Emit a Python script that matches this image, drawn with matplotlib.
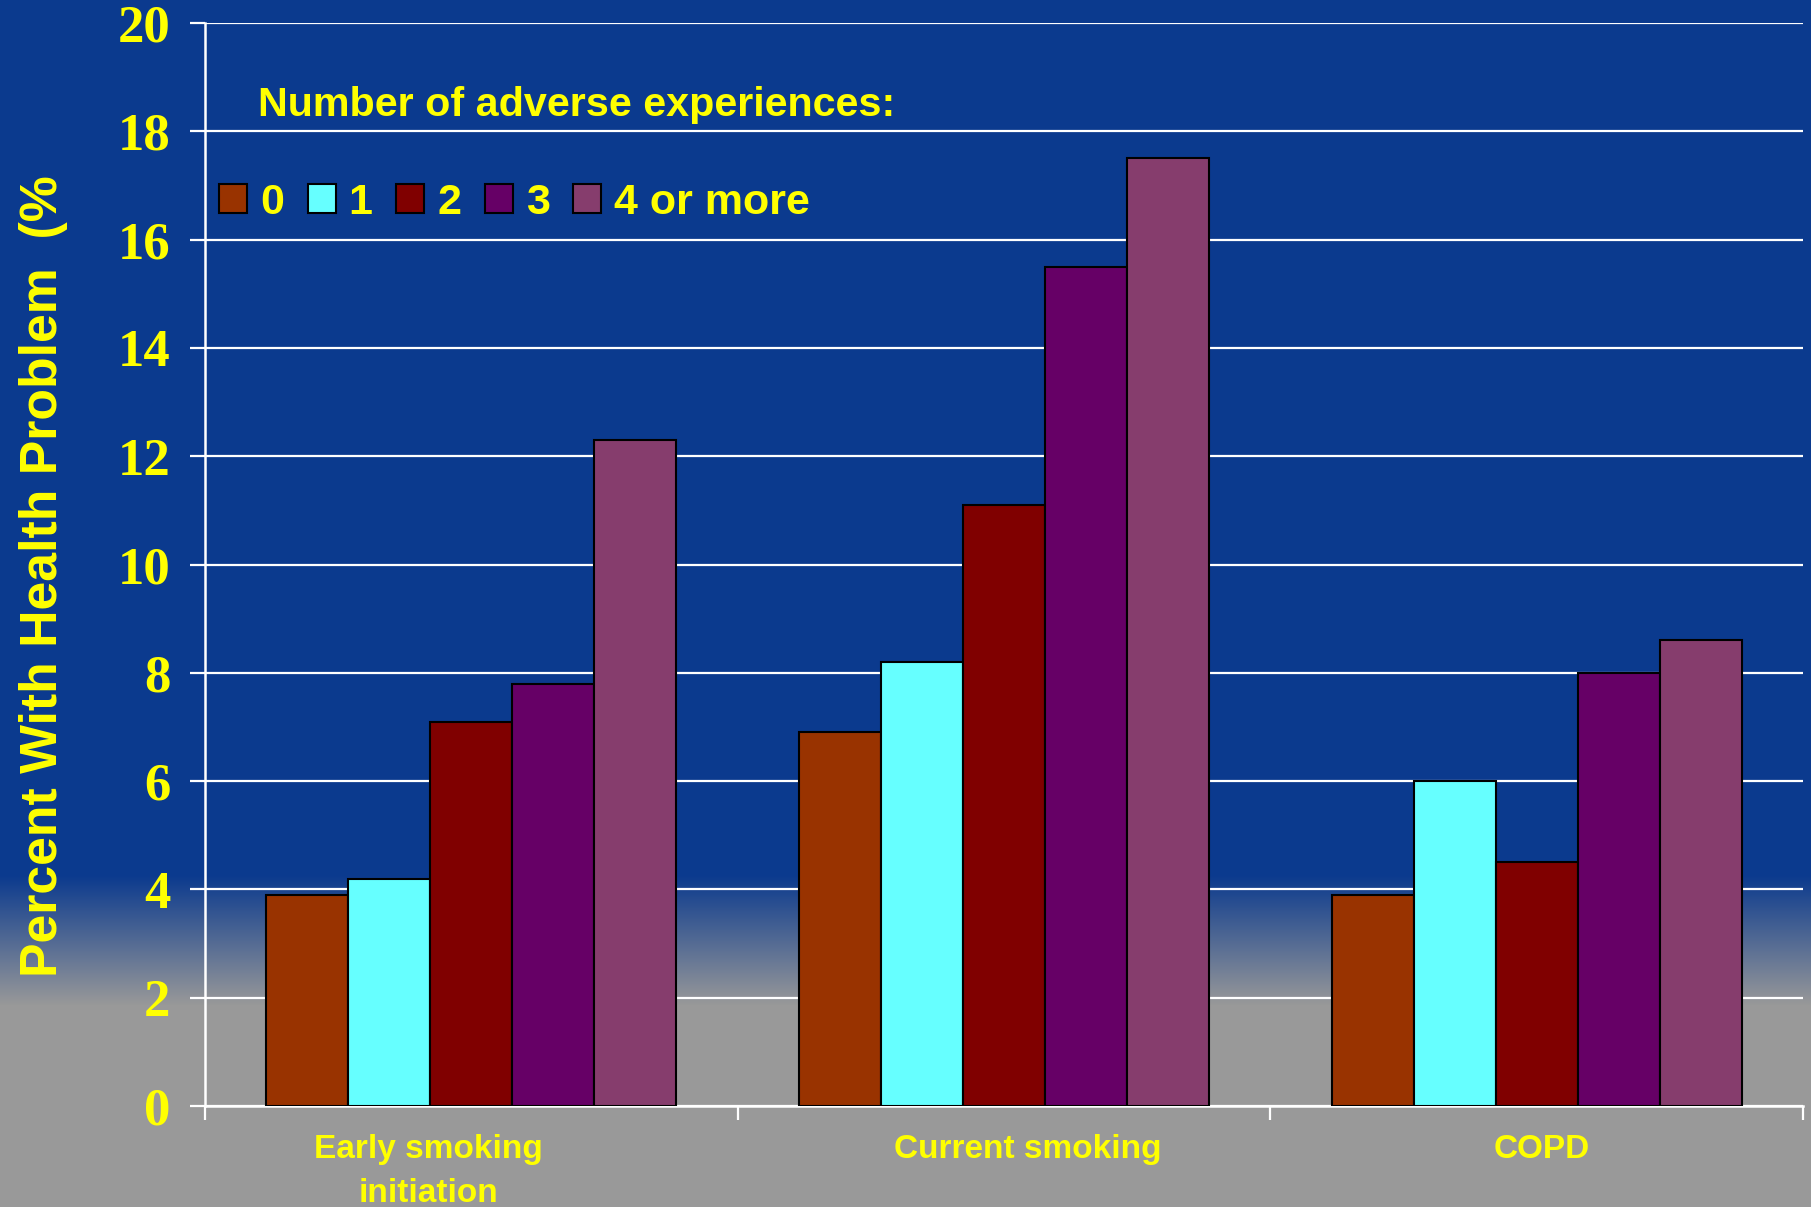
import numpy as np
import matplotlib
matplotlib.use("Agg")
import matplotlib.pyplot as plt
from matplotlib import font_manager

# data
categories = ['Early smoking\ninitiation', 'Current smoking', 'COPD']
series_names = ['0', '1', '2', '3', '4 or more']
values_0 = [3.9, 6.9, 3.9]
values_1 = [4.2, 8.2, 6.0]
values_2 = [7.1, 11.1, 4.5]
values_3 = [7.8, 15.5, 8.0]
values_4 = [12.3, 17.5, 8.6]
y_ticks = [0, 2, 4, 6, 8, 10, 12, 14, 16, 18, 20]

colors = ['#993300', '#66FFFF', '#800000', '#660066', '#863D6D']
yellow = '#FFFF00'
blue = np.array([0x0B, 0x3A, 0x8E]) / 255
gray = np.array([0x99, 0x99, 0x99]) / 255

# narrow sans if available
names = {f.name for f in font_manager.fontManager.ttflist}
narrow = 'Liberation Sans Narrow' if 'Liberation Sans Narrow' in names else 'Liberation Sans'

W, H = 1811, 1207
fig = plt.figure(figsize=(W / 100, H / 100), dpi=100)

# background gradient (blue to gray near the bottom)
bg = fig.add_axes([0, 0, 1, 1], zorder=-10)
rows = np.arange(H)
t = np.clip((rows - 875) / (1005 - 875), 0, 1)[:, None]
grad = blue[None, :] * (1 - t) + gray[None, :] * t
bg.imshow(grad[:, None, :], aspect='auto', extent=[0, 1, 0, 1])
bg.axis('off')

ax = fig.add_axes([205 / W, 1 - 1106 / H, (1803 - 205) / W, (1106 - 23) / H])
ax.patch.set_alpha(0)

all_values = [values_0, values_1, values_2, values_3, values_4]
x = np.arange(len(categories))
bw = 0.154
for i, (vals, name, c) in enumerate(zip(all_values, series_names, colors)):
    ax.bar(x + (i - 2) * bw, vals, bw, color=c, edgecolor='black', linewidth=1.5,
           label=name, zorder=3)

ax.set_xlim(-0.5, 2.5)
ax.set_ylim(0, 20)
ax.set_yticks(y_ticks)
ax.set_yticklabels([str(v) for v in y_ticks], family='Liberation Serif',
                   fontweight='bold', fontsize=38, color=yellow)
ax.yaxis.grid(True, color='white', linewidth=1.6, zorder=1)
ax.set_axisbelow(True)

# category labels sit a little off-centre in the original slide
label_shift = [-0.08, 0.045, 0.01]
ax.set_xticks([-0.5, 0.5, 1.5, 2.5])
ax.set_xticklabels([])
ax.set_xticks(x + np.array(label_shift), minor=True)
ax.set_xticklabels(categories, minor=True, family=narrow, fontweight='bold',
                   fontsize=24, color=yellow, linespacing=1.55)
ax.tick_params(axis='x', which='minor', length=0, pad=20)
ax.tick_params(axis='x', which='major', length=10, width=1.6, color='white', direction='out')
ax.tick_params(axis='y', length=11, width=1.6, color='white', direction='out', pad=14)

for s in ['top', 'right']:
    ax.spines[s].set_visible(False)
for s in ['left', 'bottom']:
    ax.spines[s].set_color('white')
    ax.spines[s].set_linewidth(1.8)

fig.text(44 / W, 0.523, 'Percent With Health Problem  (%', rotation=90, va='center',
         ha='center', family='Liberation Sans', fontweight='bold', fontsize=37.3,
         color=yellow)

ax.text(0.033, 0.9245, 'Number of adverse experiences:', transform=ax.transAxes,
        va='center', ha='left', family=narrow, fontweight='bold', fontsize=29.7,
        color=yellow)

leg = ax.legend(loc='center left', bbox_to_anchor=(0.0088, 0.834), ncol=5,
                frameon=False, borderpad=0, borderaxespad=0, handlelength=0.65,
                handleheight=0.65, handletextpad=0.3, columnspacing=0.55,
                prop={'family': narrow, 'weight': 'bold', 'size': 31})
for txt in leg.get_texts():
    txt.set_color(yellow)

fig.savefig('out.png', dpi=100)
